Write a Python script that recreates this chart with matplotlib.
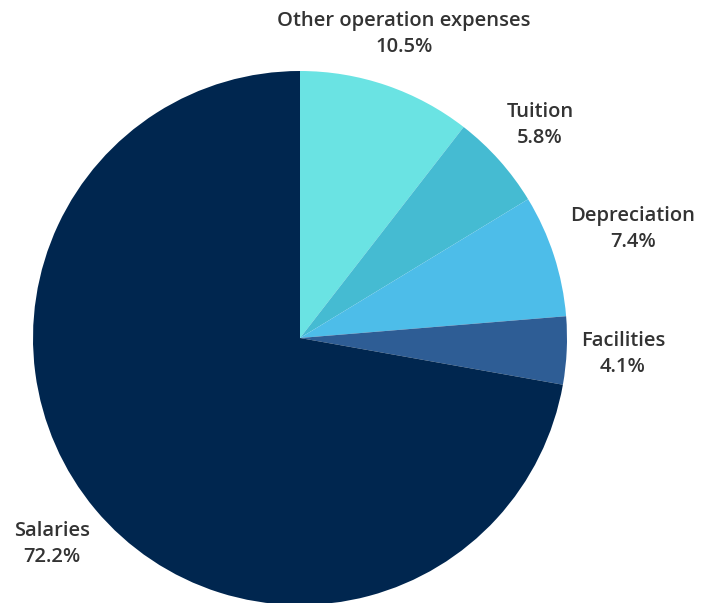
import matplotlib
matplotlib.use("Agg")
import matplotlib.pyplot as plt

labels = ["Other operation expenses", "Tuition", "Depreciation", "Facilities", "Salaries"]
values = [10.5, 5.8, 7.4, 4.1, 72.2]
colors = ["#6ae3e3", "#45bbd2", "#4dbde9", "#2e5d95", "#00264f"]

W, H = 721, 603
fig = plt.figure(figsize=(W / 100, H / 100), dpi=100)
ax = fig.add_axes([0, 0, 1, 1])

cx, cy, r = 300, 338, 267
wedges, _ = ax.pie(values, colors=colors, startangle=90, counterclock=False,
                   center=(cx, -cy), radius=r, frame=True,
                   wedgeprops=dict(linewidth=0))
ax.set_xlim(0, W)
ax.set_ylim(-H, 0)
ax.set_aspect("equal")
ax.axis("off")

label_pos = [(404, 34), (540, 125), (633, 229), (623, 354), (52, 544)]
for lab, v, (x, y) in zip(labels, values, label_pos):
    ax.text(x, -y, f"{lab}\n{v}%", ha="center", va="center",
            fontsize=14.5, family="Open Sans", fontweight="semibold",
            color="#333333", linespacing=1.42)

fig.savefig("out.png", dpi=100)
